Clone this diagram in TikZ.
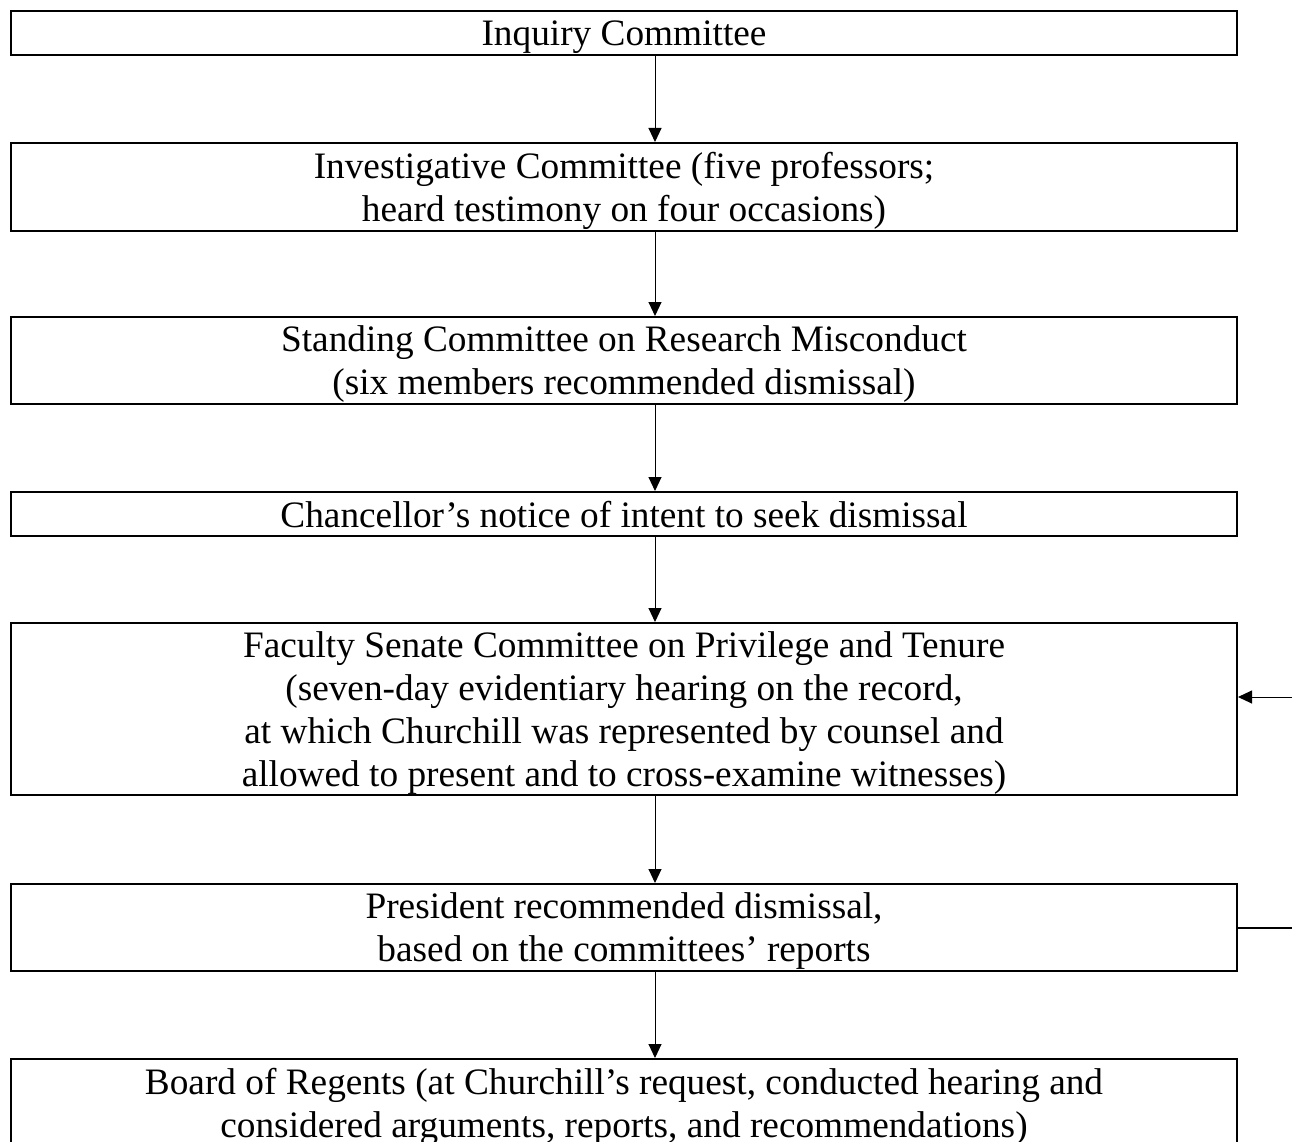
\documentclass[tikz,border=0pt]{standalone}
\usepackage{fontspec}
\setmainfont{Liberation Serif}
\usetikzlibrary{arrows.meta}
\begin{document}
\begin{tikzpicture}[x=1pt,y=-1pt,
  stepbox/.style={draw, line width=2pt, minimum width=1226pt, inner sep=0pt},
  steptext/.style={inner sep=0pt, align=center, text depth=9pt, yshift=-4.5pt,
    font=\fontsize{37.3}{43}\selectfont},
  flow/.style={line width=1pt, -{Triangle[length=14pt,width=13pt]}},
  side/.style={line width=1.8pt}]
\useasboundingbox (0,0) rectangle (1292,1142);
\node[stepbox, minimum height=44pt] (b1) at (624,33) {};
\node[stepbox, minimum height=88pt] (b2) at (624,187) {};
\node[stepbox, minimum height=87pt] (b3) at (624,360.5) {};
\node[stepbox, minimum height=44pt] (b4) at (624,514) {};
\node[stepbox, minimum height=172pt] (b5) at (624,709) {};
\node[stepbox, minimum height=87pt] (b6) at (624,927.5) {};
\node[stepbox, minimum height=88pt] (b7) at (624,1103) {};
\node[steptext] (t1) at (b1.center) {Inquiry Committee};
\node[steptext] (t2) at (b2.center) {Investigative Committee (five professors;\\heard testimony on four occasions)};
\node[steptext] (t3) at (b3.center) {Standing Committee on Research Misconduct\\(six members recommended dismissal)};
\node[steptext] (t4) at (b4.center) {Chancellor’s notice of intent to seek dismissal};
\node[steptext] (t5) at (b5.center) {Faculty Senate Committee on Privilege and Tenure\\(seven-day evidentiary hearing on the record,\\at which Churchill was represented by counsel and\\allowed to present and to cross-examine witnesses)};
\node[steptext] (t6) at (b6.center) {President recommended dismissal,\\based on the committees’ reports};
\node[steptext] (t7) at (b7.center) {Board of Regents (at Churchill’s request, conducted hearing and\\considered arguments, reports, and recommendations)};
\coordinate (ra) at (1292,697);
\coordinate (rb) at (1292,928);
\draw[flow] (b1.south -| 655,0) -- (b2.north -| 655,0);
\draw[flow] (b2.south -| 655,0) -- (b3.north -| 655,0);
\draw[flow] (b3.south -| 655,0) -- (b4.north -| 655,0);
\draw[flow] (b4.south -| 655,0) -- (b5.north -| 655,0);
\draw[flow] (b5.south -| 655,0) -- (b6.north -| 655,0);
\draw[flow] (b6.south -| 655,0) -- (b7.north -| 655,0);
\draw[flow] (ra) -- (ra -| b5.east);
\draw[side] (rb -| b6.east) -- (rb);
\end{tikzpicture}
\end{document}
